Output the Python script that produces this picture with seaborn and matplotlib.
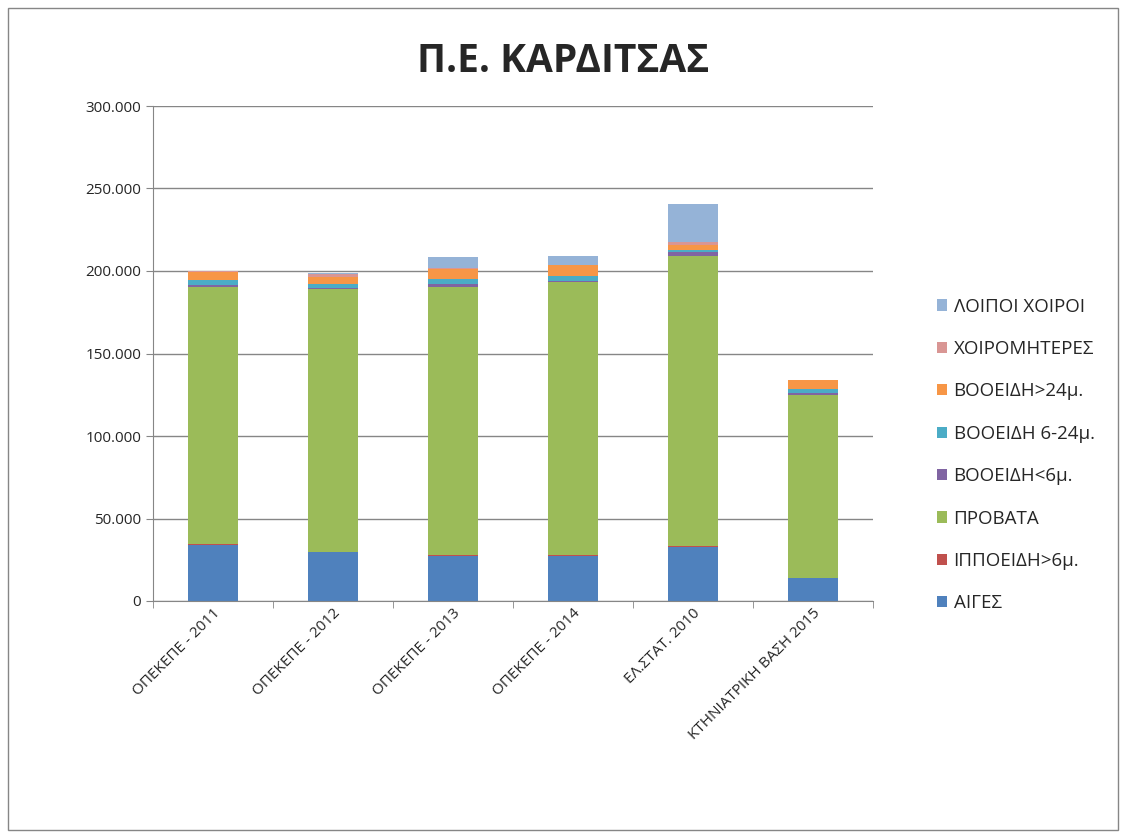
import pandas as pd
import seaborn as sns
import matplotlib.pyplot as plt
from matplotlib.patches import Rectangle
from matplotlib.ticker import FuncFormatter, FixedLocator

sns.set_style("white")
plt.rcParams['font.family'] = ['Open Sans', 'DejaVu Sans']

# Data
sources = ["ΟΠΕΚΕΠΕ - 2011", "ΟΠΕΚΕΠΕ - 2012", "ΟΠΕΚΕΠΕ - 2013",
           "ΟΠΕΚΕΠΕ - 2014", "ΕΛ.ΣΤΑΤ. 2010", "ΚΤΗΝΙΑΤΡΙΚΗ ΒΑΣΗ 2015"]
aiges = [34000, 29500, 27500, 27500, 33000, 13700]
ippoeidi = [500, 400, 300, 300, 400, 200]
provata = [156000, 159000, 162500, 165500, 175500, 110900]
vooeidi_lt6 = [1000, 1000, 2000, 800, 2500, 1400]
vooeidi_6_24 = [3000, 2500, 3000, 2800, 1500, 2000]
vooeidi_gt24 = [5000, 4000, 6000, 6700, 3000, 5600]
xoiromiteres = [300, 1500, 300, 200, 1600, 100]
loipoi_xoiroi = [300, 1000, 7000, 5000, 23000, 100]

series = [
    ("ΑΙΓΕΣ", aiges, "#4F81BD"),
    ("ΙΠΠΟΕΙΔΗ>6μ.", ippoeidi, "#C0504D"),
    ("ΠΡΟΒΑΤΑ", provata, "#9BBB59"),
    ("ΒΟΟΕΙΔΗ<6μ.", vooeidi_lt6, "#8064A2"),
    ("ΒΟΟΕΙΔΗ 6-24μ.", vooeidi_6_24, "#4BACC6"),
    ("ΒΟΟΕΙΔΗ>24μ.", vooeidi_gt24, "#F79646"),
    ("ΧΟΙΡΟΜΗΤΕΡΕΣ", xoiromiteres, "#D99694"),
    ("ΛΟΙΠΟΙ ΧΟΙΡΟΙ", loipoi_xoiroi, "#95B3D7"),
]

df = pd.DataFrame({name: vals for name, vals, _ in series}, index=sources)
cum = df.cumsum(axis=1)

fig = plt.figure(figsize=(11.27, 8.38), dpi=100)
ax = fig.add_axes([153 / 1127, 1 - 601 / 838, 720 / 1127, 495 / 838])

# stacked bars: draw cumulative totals from the top layer down
for name, _, color in reversed(series):
    sns.barplot(x=sources, y=cum[name].values, color=color, width=0.41,
                saturation=1, ax=ax, label=name, linewidth=0, edgecolor="none")

ax.set_ylim(0, 300000)
ax.set_xlim(-0.5, len(sources) - 0.5)
ax.yaxis.set_major_formatter(FuncFormatter(lambda v, p: f"{int(v):,}".replace(",", ".")))
ax.set_yticks(range(0, 300001, 50000))
ax.yaxis.grid(True, color="#868686", linewidth=1)
ax.set_axisbelow(True)
for s in ["top", "right"]:
    ax.spines[s].set_visible(False)
for s in ["left", "bottom"]:
    ax.spines[s].set_color("#868686")
ax.tick_params(axis="y", length=5, color="#868686", labelsize=11, direction="out", left=True)
ax.tick_params(axis="x", length=0, labelsize=11)
ax.xaxis.set_minor_locator(FixedLocator([i - 0.5 for i in range(len(sources) + 1)]))
ax.tick_params(axis="x", which="minor", length=5, color="#868686", bottom=True)
plt.setp(ax.get_xticklabels(), rotation=45, ha="right", rotation_mode="anchor")
ax.set_xlabel("")
ax.set_ylabel("")

fig.text(0.5, 1 - 62 / 838, "Π.Ε. ΚΑΡΔΙΤΣΑΣ", ha="center", va="center",
         fontsize=28, fontweight="bold")

handles, labels = ax.get_legend_handles_labels()
ax.legend(handles, labels, loc="center left", bbox_to_anchor=(1.065, 0.295),
          frameon=False, fontsize=13.5, handlelength=0.55, handleheight=0.55,
          labelspacing=1.3, handletextpad=0.35)

fig.patches.append(Rectangle((8 / 1127, 8 / 838), 1110 / 1127, 822 / 838,
                             transform=fig.transFigure, fill=False,
                             edgecolor="#868686", linewidth=1))

plt.savefig("out.png", dpi=100)
